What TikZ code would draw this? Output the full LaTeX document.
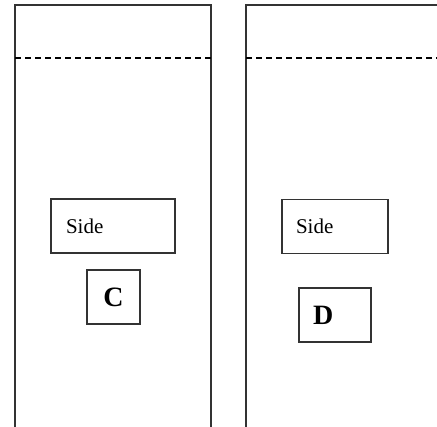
\documentclass[tikz,border=0pt]{standalone}
\usepackage{fontspec}
\setmainfont{Liberation Serif}
\usepackage{tikz}
\tikzset{
  edge/.style={draw=black!80,line width=1.2pt},
  sidebox/.style={edge,minimum height=54pt,inner xsep=15pt,align=left,
    font=\fontsize{21}{24}\selectfont},
  letterbox/.style={edge,minimum height=54pt,
    font=\fontsize{28}{32}\selectfont\bfseries}
}

\begin{document}
\begin{tikzpicture}[x=1pt,y=-1pt]
        \useasboundingbox (0,0) rectangle (437,427);
        % the two strips, open at the bottom
        \draw[edge] (15,427) -- (15,5) -- (211,5) -- (211,427);
        \draw[edge] (246,427) -- (246,5) -- (437,5);
        \foreach \a/\b in {15/211, 246/437} {
          \draw[edge,draw=black,dash pattern=on 6pt off 4pt] (\a,58) -- (\b,58);
        }
        % left strip
        \node[sidebox,text width=94pt] (sideC) at (113,226) {Side};
        \node[letterbox,minimum width=53pt] (boxC) at (113.5,297) {C};
        % right strip
        \node[sidebox,text width=78pt,inner xsep=14pt] (sideD) at (335,226.5) {Side};
        \node[letterbox,text width=44pt,inner xsep=14pt,align=left] (boxD) at (335,315) {D};
      \end{tikzpicture}
\end{document}
